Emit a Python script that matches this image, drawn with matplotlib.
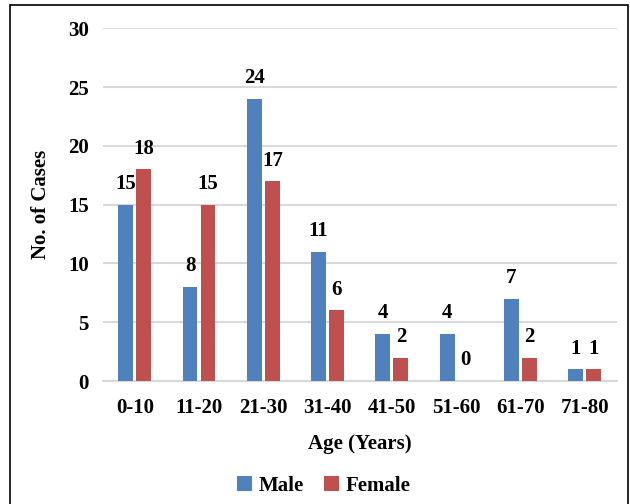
import numpy as np
import matplotlib.pyplot as plt
from matplotlib.patches import Rectangle

# --- Data ---
age_groups = ["0-10", "11-20", "21-30", "31-40", "41-50", "51-60", "61-70", "71-80"]
male = [15, 8, 24, 11, 4, 4, 7, 1]
female = [18, 15, 17, 6, 2, 0, 2, 1]

plt.rcParams['font.family'] = ['Liberation Serif', 'DejaVu Serif']
plt.rcParams['font.weight'] = 'bold'

FS = 15

fig = plt.figure(figsize=(6.3, 5.04), dpi=100)
ax = fig.add_axes([0.163, 0.244, 0.816, 0.700])

x = np.arange(len(age_groups))
w = 0.23
off = 0.14
b1 = ax.bar(x - off, male, w, color="#4F81BD", label="Male", zorder=3)
b2 = ax.bar(x + off, female, w, color="#C0504D", label="Female", zorder=3)

# value labels
for rect, v in zip(b1, male):
    ax.text(rect.get_x() + rect.get_width() / 2, v + 0.9, str(v),
            ha="center", va="bottom", fontsize=FS, fontweight="bold")
for rect, v in zip(b2, female):
    ax.text(rect.get_x() + rect.get_width() / 2, v + 0.9, str(v),
            ha="center", va="bottom", fontsize=FS, fontweight="bold")

ax.set_ylim(0, 30)
ax.set_xlim(-0.5, len(age_groups) - 0.5)
ax.set_yticks(range(0, 31, 5))
ax.set_xticks(x)
ax.set_xticklabels(age_groups)
ax.tick_params(axis="both", length=0, labelsize=FS, pad=10)
ax.tick_params(axis="x", pad=12)
for lab in ax.get_xticklabels() + ax.get_yticklabels():
    lab.set_fontweight("bold")

ax.grid(axis="y", color="#D9D9D9", linewidth=1.5, zorder=0)
for s in ["top", "right", "left"]:
    ax.spines[s].set_visible(False)
ax.spines["bottom"].set_color("#D9D9D9")
ax.spines["bottom"].set_linewidth(1.5)

ax.set_xlabel("Age (Years)", fontsize=FS, fontweight="bold", labelpad=12)
ax.set_ylabel("No. of Cases", fontsize=FS, fontweight="bold", labelpad=12)

ax.legend(loc="center", bbox_to_anchor=(0.43, -0.297), ncol=2, frameon=False,
          handlelength=0.7, handleheight=0.7, columnspacing=1.0,
          handletextpad=0.3, prop={"weight": "bold", "size": FS})

# outer border
fig.patches.append(Rectangle((10 / 630, -0.01), 618 / 630, 1 - 5 / 504 + 0.01,
                             transform=fig.transFigure, fill=False,
                             edgecolor="black", linewidth=1.2))

fig.savefig("out.png", dpi=100)
